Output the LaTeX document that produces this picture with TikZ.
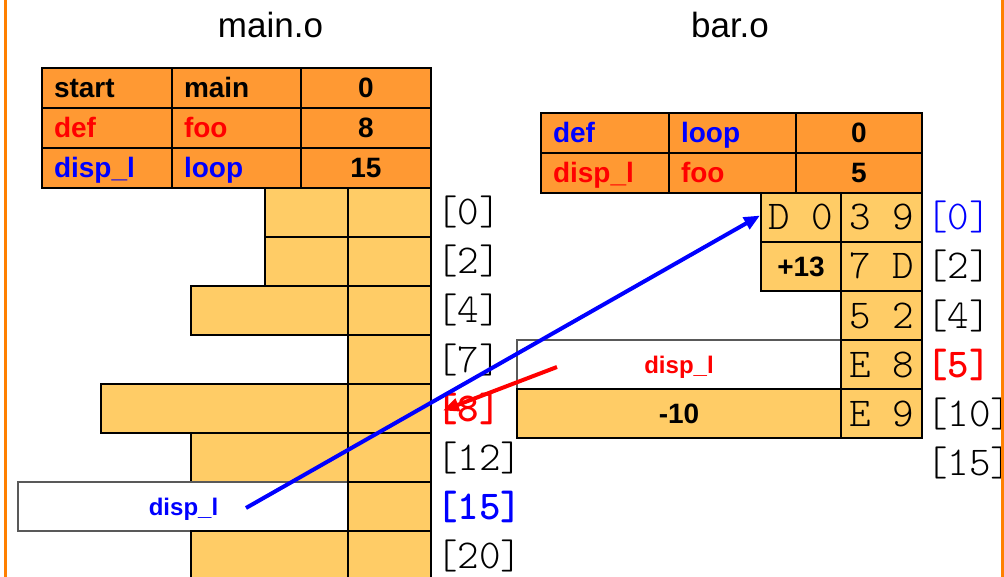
\documentclass[tikz,border=0pt]{standalone}
\usepackage{fontspec}
\setsansfont{Liberation Sans}
\usetikzlibrary{arrows.meta,calc}
\definecolor{tabor}{HTML}{FF9933}
\definecolor{memor}{HTML}{FFCC66}
\definecolor{frameor}{HTML}{FF8000}
\definecolor{myred}{HTML}{FF0000}
\definecolor{myblue}{HTML}{0000FF}
\newcommand{\ttlight}{\ttfamily\fontseries{l}\fontsize{41}{41}\selectfont}
\newcommand{\ttbold}{\ttfamily\bfseries\fontsize{41}{41}\selectfont}
\tikzset{
  base/.style={inner sep=0pt, outer sep=0pt},
  tcell/.style={base, draw=black, line width=1.3pt, fill=tabor, minimum height=40pt,
    font=\sffamily\bfseries\fontsize{28}{30}\selectfont, text height=20pt, text depth=0pt},
  tl/.style={tcell, text width=#1, align=left, inner xsep=12pt},
  tc/.style={tcell, minimum width=#1},
  mcell/.style={base, draw=black, line width=1.3pt, fill=memor, minimum height=49pt, minimum width=#1},
  wcell/.style={base, draw=black!65, line width=1.3pt, fill=white, minimum height=49pt, minimum width=#1},
  hex/.style={font=\ttlight, text height=25pt, text depth=0pt},
  num/.style={font=\sffamily\bfseries\fontsize{28}{30}\selectfont, text height=20pt, text depth=0pt},
  wtxt/.style={base, font=\sffamily\bfseries\fontsize{24}{26}\selectfont, text height=17.2pt, text depth=0pt},
  lab/.style={base, anchor=west, font=\ttlight, text height=25pt, text depth=0pt},
  blab/.style={lab, font=\ttbold},
  title/.style={base, font=\sffamily\fontsize{35}{38}\selectfont},
  arr/.style={line width=4pt, -{Triangle[length=16pt,width=13pt]}}
}
\begin{document}
\begin{tikzpicture}[x=1pt,y=-1pt]
\useasboundingbox (0,0) rectangle (1004,577);

% titles
\node[title] (tmain) at (270.5,25) {main.o};
\node[title] (tbar) at (730,25) {bar.o};

% main.o table
\node[tl=106pt] (ma11) at (107,88) {start};
\node[tl=105pt] (ma12) at (236.5,88) {main};
\node[tc=130pt] (ma13) at (366,88) {0};
\node[tl=106pt, text=myred] (ma21) at (107,128) {def};
\node[tl=105pt, text=myred] (ma22) at (236.5,128) {foo};
\node[tc=130pt] (ma23) at (366,128) {8};
\node[tl=106pt, text=myblue] (ma31) at (107,168) {disp\_l};
\node[tl=105pt, text=myblue] (ma32) at (236.5,168) {loop};
\node[tc=130pt] (ma33) at (366,168) {15};

% main.o memory
\node[mcell=83pt] (m0a) at (306.5,212.5) {};
\node[mcell=83pt] (m0b) at (389.5,212.5) {};
\node[mcell=83pt] (m2a) at (306.5,261.5) {};
\node[mcell=83pt] (m2b) at (389.5,261.5) {};
\node[mcell=157pt] (m4a) at (269.5,310.5) {};
\node[mcell=83pt] (m4b) at (389.5,310.5) {};
\node[mcell=83pt] (m7b) at (389.5,359.5) {};
\node[mcell=247pt] (m8a) at (224.5,408.5) {};
\node[mcell=83pt] (m8b) at (389.5,408.5) {};
\node[mcell=157pt] (m12a) at (269.5,457.5) {};
\node[mcell=83pt] (m12b) at (389.5,457.5) {};
\node[wcell=330pt] (m15a) at (183,506.5) {};
\node[wtxt, text=myblue] (mdisp) at (183.5,506.5) {disp\_l};
\node[mcell=83pt] (m15b) at (389.5,506.5) {};
\node[mcell=157pt] (m20a) at (269.5,555.5) {};
\node[mcell=83pt] (m20b) at (389.5,555.5) {};

% main.o labels
\node[lab] (ml0) at (436,212.5) {[0]};
\node[lab] (ml2) at (436,261.5) {[2]};
\node[lab] (ml4) at (436,310.5) {[4]};
\node[lab] (ml7) at (436,359.5) {[7]};
\node[blab, text=myred] (ml8) at (436,408.5) {[8]};
\node[lab] (ml12) at (436,457.5) {[12]};
\node[blab, text=myblue] (ml15) at (436,506.5) {[15]};
\node[lab] (ml20) at (436,555.5) {[20]};

% bar.o table
\node[tl=104pt, text=myblue] (ba11) at (605,133) {def};
\node[tl=103pt, text=myblue] (ba12) at (732.5,133) {loop};
\node[tc=126pt] (ba13) at (859,133) {0};
\node[tl=104pt, text=myred] (ba21) at (605,173) {disp\_l};
\node[tl=103pt, text=myred] (ba22) at (732.5,173) {foo};
\node[tc=126pt] (ba23) at (859,173) {5};

% bar.o memory
\node[mcell=80pt, hex] (b0a) at (801,217.5) {D 0};
\node[mcell=81pt, hex] (b0b) at (881.5,217.5) {3 9};
\node[mcell=80pt, num] (b2a) at (801,266.5) {+13};
\node[mcell=81pt, hex] (b2b) at (881.5,266.5) {7 D};
\node[mcell=81pt, hex] (b4b) at (881.5,315.5) {5 2};
\node[wcell=324pt] (b5a) at (679,364.5) {};
\node[wtxt, text=myred] (bdisp) at (679,364.5) {disp\_l};
\node[mcell=81pt, hex] (b5b) at (881.5,364.5) {E 8};
\node[mcell=324pt, num] (b10a) at (679,413.5) {-10};
\node[mcell=81pt, hex] (b10b) at (881.5,413.5) {E 9};

% bar.o labels
\node[lab, text=myblue] (bl0) at (926,217.5) {[0]};
\node[lab] (bl2) at (926,266.5) {[2]};
\node[lab] (bl4) at (926,315.5) {[4]};
\node[blab, text=myred] (bl5) at (926,364.5) {[5]};
\node[lab] (bl10) at (926,413.5) {[10]};
\node[lab] (bl15) at (926,462.5) {[15]};

% arrows
\coordinate (bstart) at (246,508);
\draw[arr, myblue] (bstart) -- ($(b0a.west)+(-1,-2)$);
\coordinate (rstart) at (557,367);
\draw[arr, myred] (rstart) -- ($(ml8.west)+(7,2)$);

% frame
\draw[frameor, line width=3pt] (5.5,0) -- (5.5,577);
\draw[frameor, line width=3pt] (1002,0) -- (1002,577);
\end{tikzpicture}
\end{document}
